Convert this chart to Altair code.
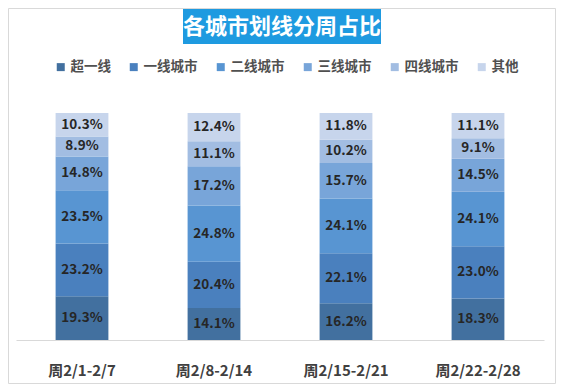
import altair as alt
import pandas as pd

weeks = ["周2/1-2/7", "周2/8-2/14", "周2/15-2/21", "周2/22-2/28"]
categories = ["超一线", "一线城市", "二线城市", "三线城市", "四线城市", "其他"]
s_chao = [19.3, 14.1, 16.2, 18.3]
s_yi = [23.2, 20.4, 22.1, 23.0]
s_er = [23.5, 24.8, 24.1, 24.1]
s_san = [14.8, 17.2, 15.7, 14.5]
s_si = [8.9, 11.1, 10.2, 9.1]
s_other = [10.3, 12.4, 11.8, 11.1]
colors = ["#42709F", "#4A80BE", "#5895D2", "#78A5D9", "#A2BDE2", "#C7D5EC"]
title_text = "各城市划线分周占比"

FONT = "Noto Sans CJK SC"

series = [s_chao, s_yi, s_er, s_san, s_si, s_other]
rows = []
for ci, (cat, vals) in enumerate(zip(categories, series)):
    for w, v in zip(weeks, vals):
        rows.append({"week": w, "cat": cat, "idx": ci, "value": v})
df = pd.DataFrame(rows)

xenc = alt.X(
    "week:N",
    sort=weeks,
    scale=alt.Scale(paddingInner=0.6, paddingOuter=0.3),
    axis=alt.Axis(
        title=None,
        labelAngle=0,
        ticks=False,
        domainColor="#D9D9D9",
        labelFont=FONT,
        labelFontSize=15,
        labelFontWeight="bold",
        labelColor="#404040",
        labelPadding=23,
    ),
)

bars = alt.Chart(df).mark_bar().encode(
    x=xenc,
    y=alt.Y("value:Q", stack="normalize", axis=None, scale=alt.Scale(domain=[0, 1])),
    color=alt.Color(
        "cat:N",
        sort=categories,
        scale=alt.Scale(domain=categories, range=colors),
        legend=alt.Legend(
            orient="none",
            legendX=38,
            legendY=-53,
            direction="horizontal",
            columns=6,
            title=None,
            symbolType="square",
            symbolSize=64,
            symbolStrokeWidth=0,
            labelFont=FONT,
            labelFontSize=13.5,
            labelFontWeight="bold",
            labelColor="#505050",
            labelOffset=3,
            columnPadding=16,
            padding=0,
        ),
    ),
    order=alt.Order("idx:Q", sort="ascending"),
)

labels = (
    alt.Chart(df)
    .transform_stack(
        stack="value",
        groupby=["week"],
        sort=[alt.SortField("idx", order="ascending")],
        as_=["y0", "y1"],
        offset="normalize",
    )
    .transform_calculate(mid="(datum.y0 + datum.y1) / 2", label="format(datum.value, '.1f') + '%'")
    .mark_text(font=FONT, fontSize=13.5, fontWeight="bold", color="#262626", baseline="middle")
    .encode(
        x=alt.X("week:N", sort=weeks),
        y=alt.Y("mid:Q", scale=alt.Scale(domain=[0, 1])),
        text="label:N",
    )
)

one = pd.DataFrame({"a": [0]})
border = alt.Chart(one).mark_rect(fill="transparent", stroke="#D9D9D9", strokeWidth=1).encode(
    x=alt.value(-7.5), x2=alt.value(539.5), y=alt.value(-104.5), y2=alt.value(270.5)
)
title_box = alt.Chart(one).mark_rect(color="#1E9AE0").encode(
    x=alt.value(167), x2=alt.value(365), y=alt.value(-104), y2=alt.value(-69)
)
title_txt = alt.Chart(one).mark_text(
    text=title_text, font=FONT, fontSize=22, fontWeight="bold", color="white", baseline="middle"
).encode(x=alt.value(266), y=alt.value(-86.5))

chart = (
    alt.layer(border, title_box, title_txt, bars, labels)
    .properties(
        width=528,
        height=227,
        padding={"left": 8, "top": 105, "right": 12, "bottom": 44},
        autosize=alt.AutoSizeParams(type="none"),
        background="white",
    )
    .configure_view(stroke=None)
)

chart.save("out.html", embed_options={"renderer": "svg", "actions": False})
